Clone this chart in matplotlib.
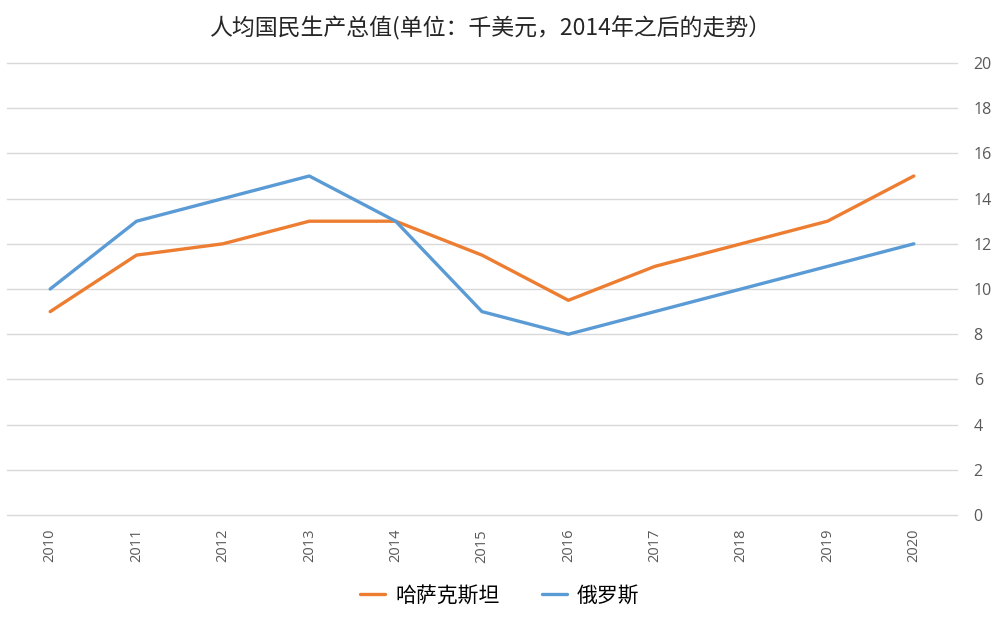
import matplotlib.pyplot as plt

plt.rcParams['font.family'] = ['Noto Sans CJK SC', 'DejaVu Sans']

years = ['2010', '2011', '2012', '2013', '2014', '2015', '2016', '2017', '2018', '2019', '2020']

# 哈萨克斯坦
kazakhstan = [9, 11.5, 12, 13, 13, 11.5, 9.5, 11, 12, 13, 15]
# 俄罗斯
russia = [10, 13, 14, 15, 13, 9, 8, 9, 10, 11, 12]

fig = plt.figure(figsize=(10, 6.3), dpi=100)
ax = fig.add_axes([0.007, 0.1825, 0.95, 0.7175])

x = range(len(years))
ax.plot(x, kazakhstan, color='#ED7D31', linewidth=2.4, label='哈萨克斯坦', solid_capstyle='round')
ax.plot(x, russia, color='#5B9BD5', linewidth=2.4, label='俄罗斯', solid_capstyle='round')

ax.set_xlim(-0.5, len(years) - 0.5)
ax.set_ylim(0, 20)
ax.set_yticks(range(0, 21, 2))
ax.yaxis.tick_right()
ax.set_xticks(list(x))
ax.set_xticklabels(years, rotation=90, fontsize=10.5, color='#595959', family=['Open Sans', 'DejaVu Sans'])
ax.tick_params(axis='y', labelsize=11.5, colors='#595959', length=0, pad=12)
ax.tick_params(axis='x', length=0, pad=10)
for lbl in ax.get_yticklabels():
    lbl.set_family(['Open Sans', 'DejaVu Sans'])
ax.grid(axis='y', color='#d9d9d9', linewidth=1)
for gl in ax.get_ygridlines():
    gl.set_clip_on(False)
ax.set_axisbelow(True)
for s in ax.spines.values():
    s.set_visible(False)

fig.suptitle('人均国民生产总值(单位：千美元，2014年之后的走势）', x=0.49, y=0.975, fontsize=16.5, color='#262626')
fig.legend(loc='center', bbox_to_anchor=(0.5, 0.055), ncol=2, frameon=False, fontsize=15,
           handlelength=1.2, columnspacing=2.0, handletextpad=0.5)

fig.savefig('out.png')
